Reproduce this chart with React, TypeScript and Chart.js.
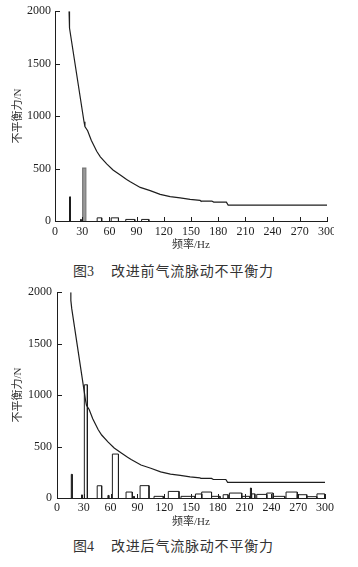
import React, { useEffect, useRef } from "react";
import { Chart, registerables } from "chart.js";

Chart.register(...registerables);

// Shared limit curve (allowable unbalanced force)
const curveHz = [15.5, 15.5, 16.5, 32, 33, 36, 40, 46, 50, 57, 64, 72, 79, 83, 94, 105, 116, 127, 138, 149, 160, 161, 173, 175, 189, 191, 300];
const curveN = [2000, 1920, 1840, 946, 900, 860, 770, 665, 612, 545, 486, 438, 395, 374, 320, 289, 254, 232, 220, 206, 196, 190, 190, 180, 180, 152, 152];

// Fig.3 (before improvement) spectrum bars
const beforeStart = [16, 28.3, 46.5, 62, 78, 95.5];
const beforeEnd = [17, 28.8, 51.5, 70, 88, 103.5];
const beforeHeight = [230, 15, 30, 30, 15, 15];
// grey bar near 33 Hz
const beforeGreyStart = [30.5];
const beforeGreyEnd = [34];
const beforeGreyHeight = [505];

// Fig.4 (after improvement) spectrum bars
const afterStart = [16, 27.5, 30.6, 45, 57, 62, 77.3, 85.5, 93, 108.6, 124.6, 138.8, 155, 162, 173, 186, 193, 207, 216.5, 218, 223.6, 234.8, 242, 256.4, 269, 279.6, 291];
const afterEnd = [17, 28.3, 34, 50, 58, 68.8, 84.3, 86.5, 103, 119, 136.6, 154.5, 162, 173, 182.5, 191.5, 206.8, 216, 217.5, 221.5, 234.8, 242, 255, 269, 279.6, 290.8, 299.5];
const afterHeight = [230, 30, 1100, 119, 25, 427, 58, 15, 120, 16, 64, 16, 39, 58, 16, 32, 48, 16, 97, 40, 35, 48, 16, 58, 32, 13, 40];

const xTicks = [0, 30, 60, 90, 120, 150, 180, 210, 240, 270, 300];
const yTicks = [0, 500, 1000, 1500, 2000];

const xTitle = "频率/Hz";
const yTitle = "不平衡力/N";
const caption3Num = "图3";
const caption3Text = "改进前气流脉动不平衡力";
const caption4Num = "图4";
const caption4Text = "改进后气流脉动不平衡力";

const INK = "#1e1e1e";
const FONT = "'Liberation Serif', 'Noto Sans CJK SC', serif";

function rectSeries(starts: number[], ends: number[], heights: number[]) {
  const pts: { x: number; y: number | null }[] = [];
  for (let i = 0; i < starts.length; i++) {
    pts.push({ x: starts[i], y: 0 }, { x: starts[i], y: heights[i] }, { x: ends[i], y: heights[i] }, { x: ends[i], y: 0 }, { x: ends[i], y: null });
  }
  return pts;
}

const innerTicks = {
  id: "innerTicks",
  afterDatasetsDraw(chart: any) {
    const { ctx, chartArea } = chart;
    const x = chart.scales.x;
    const y = chart.scales.y;
    ctx.save();
    ctx.strokeStyle = INK;
    ctx.lineWidth = 1;
    ctx.beginPath();
    x.ticks.forEach((_t: any, i: number) => {
      const px = Math.round(x.getPixelForTick(i)) + 0.5;
      ctx.moveTo(px, chartArea.bottom);
      ctx.lineTo(px, chartArea.bottom - 4);
    });
    y.ticks.forEach((_t: any, i: number) => {
      const py = Math.round(y.getPixelForTick(i)) + 0.5;
      ctx.moveTo(chartArea.left, py);
      ctx.lineTo(chartArea.left + 5, py);
    });
    ctx.stroke();
    ctx.restore();
  },
};

type PanelProps = {
  width: number;
  height: number;
  yAxisWidth: number;
  padTop: number;
  padRight: number;
  xLabelPad: number;
  yLabelPad: number;
  bars: { x: number; y: number | null }[];
  grey?: { x: number; y: number | null }[];
};

function Panel(p: PanelProps) {
  const ref = useRef<HTMLCanvasElement>(null);
  useEffect(() => {
    if (!ref.current) return;
    const datasets: any[] = [
      {
        data: curveHz.map((h, i) => ({ x: h, y: curveN[i] })),
        borderColor: INK,
        borderWidth: 1.2,
        pointRadius: 0,
        fill: false,
      },
      {
        data: p.bars,
        borderColor: INK,
        borderWidth: 1,
        pointRadius: 0,
        spanGaps: false,
        fill: false,
      },
    ];
    if (p.grey) {
      datasets.push({
        data: p.grey,
        borderColor: "#777",
        backgroundColor: "#999",
        borderWidth: 1.2,
        pointRadius: 0,
        spanGaps: false,
        fill: "origin",
      });
    }
    const chart = new Chart(ref.current, {
      type: "line",
      data: { datasets },
      options: {
        responsive: false,
        animation: false,
        devicePixelRatio: 1,
        layout: { padding: { top: p.padTop, right: p.padRight, left: 0, bottom: 0 } },
        plugins: { legend: { display: false }, tooltip: { enabled: false } },
        elements: { line: { tension: 0 } },
        scales: {
          x: {
            type: "linear",
            min: 0,
            max: 300,
            afterBuildTicks: (s: any) => {
              s.ticks = xTicks.map((v) => ({ value: v }));
            },
            afterFit: (s: any) => {
              s.height = 34;
            },
            grid: { display: false, drawTicks: false },
            border: { display: true, color: INK, width: 1 },
            ticks: {
              color: INK,
              padding: p.xLabelPad,
              maxRotation: 0,
              autoSkip: false,
              callback: (v: any) => String(v),
              font: { family: FONT, size: 12 },
            },
            title: { display: true, text: xTitle, color: "#333", padding: { top: 0, bottom: 3.5 }, font: { family: FONT, size: 11 } },
          },
          y: {
            type: "linear",
            min: 0,
            max: 2000,
            afterBuildTicks: (s: any) => {
              s.ticks = yTicks.map((v) => ({ value: v }));
            },
            afterFit: (s: any) => {
              s.width = p.yAxisWidth;
            },
            grid: { display: false, drawTicks: false },
            border: { display: true, color: INK, width: 1 },
            ticks: { color: INK, padding: p.yLabelPad, callback: (v: any) => String(v), font: { family: FONT, size: 12 } },
            title: { display: true, text: yTitle, color: "#333", padding: { top: 12, bottom: 0 }, font: { family: FONT, size: 11 } },
          },
        },
      } as any,
      plugins: [innerTicks],
    });
    return () => chart.destroy();
  }, []);
  return <canvas ref={ref} width={p.width} height={p.height} style={{ width: p.width, height: p.height, display: "block" }} />;
}

function Caption({ num, text, top }: { num: string; text: string; top: number }) {
  return (
    <div
      style={{
        position: "absolute",
        left: 73,
        top,
        height: 20,
        lineHeight: "20px",
        fontFamily: FONT,
        fontSize: 14,
        color: "#333",
        whiteSpace: "nowrap",
      }}
    >
      <span>{num}</span>
      <span style={{ marginLeft: 17, letterSpacing: "0.8px" }}>{text}</span>
    </div>
  );
}

export default function App() {
  return (
    <div style={{ position: "fixed", left: 0, top: 0, width: 358, height: 567, background: "#fff", overflow: "hidden" }}>
      <div style={{ position: "absolute", left: 0, top: 0, width: 334, height: 255, overflow: "hidden" }}>
        <Panel
          width={358}
          height={255}
          yAxisWidth={55}
          padTop={11}
          padRight={31}
          xLabelPad={4}
          yLabelPad={4}
          bars={rectSeries(beforeStart, beforeEnd, beforeHeight)}
          grey={rectSeries(beforeGreyStart, beforeGreyEnd, beforeGreyHeight)}
        />
      </div>
      <Caption num={caption3Num} text={caption3Text} top={262} />
      <div style={{ position: "absolute", left: 0, top: 280, width: 358, height: 252 }}>
        <Panel
          width={358}
          height={252}
          yAxisWidth={57}
          padTop={12}
          padRight={33}
          xLabelPad={3}
          yLabelPad={5}
          bars={rectSeries(afterStart, afterEnd, afterHeight)}
        />
      </div>
      <Caption num={caption4Num} text={caption4Text} top={537} />
    </div>
  );
}
